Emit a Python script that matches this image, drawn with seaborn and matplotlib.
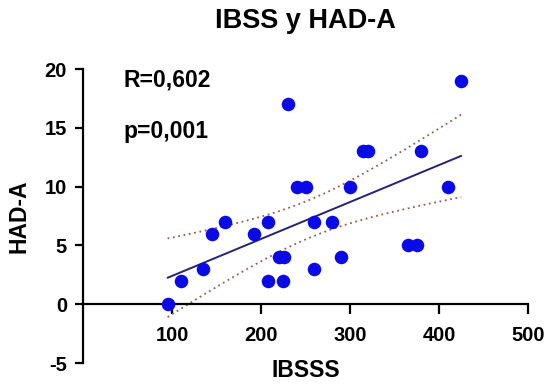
#!/usr/bin/env python3

import numpy as np
import pandas as pd
import matplotlib
matplotlib.use('Agg')
from matplotlib import pyplot as plt
import seaborn as sns


# IBSSS score vs HAD-A score
ibsss = [95, 110, 135, 145, 160, 192, 208, 208, 225, 220, 226, 230, 240,
         250, 260, 280, 260, 290, 300, 315, 320, 380, 410, 365, 375, 425]
had_a = [0, 2, 3, 6, 7, 6, 7, 2, 2, 4, 4, 17, 10,
         10, 7, 7, 3, 4, 10, 13, 13, 13, 10, 5, 5, 19]
x_ticks = [100, 200, 300, 400, 500]
y_ticks = [-5, 0, 5, 10, 15, 20]
r_text = 'R=0,602'
p_text = 'p=0,001'

df = pd.DataFrame({'IBSSS': ibsss, 'HAD-A': had_a})

sns.set_style('white')
plt.rcParams['font.family'] = ['Liberation Sans', 'DejaVu Sans']
plt.rcParams['font.weight'] = 'bold'
plt.rcParams['axes.unicode_minus'] = False
for key in ['text.color', 'axes.labelcolor', 'xtick.color', 'ytick.color']:
    plt.rcParams[key] = 'black'

fig = plt.figure(figsize=(5.48, 3.85), dpi=100)
ax = fig.add_axes([0.1515, 0.0571, 0.8120, 0.7636])

# 95% confidence band of the fitted line (dotted)
x = df['IBSSS'].to_numpy(float)
y = df['HAD-A'].to_numpy(float)
n = len(x)
slope, intercept = np.polyfit(x, y, 1)
resid = y - (slope * x + intercept)
s = np.sqrt((resid ** 2).sum() / (n - 2))
sxx = ((x - x.mean()) ** 2).sum()
xs = np.linspace(x.min(), x.max(), 100)
ys = slope * xs + intercept
half = 2.064 * s * np.sqrt(1.0 / n + (xs - x.mean()) ** 2 / sxx)
ax.plot(xs, ys + half, ls=(0, (1, 2.0)), color='#9a5a4e', lw=1.3, zorder=2)
ax.plot(xs, ys - half, ls=(0, (1, 2.0)), color='#9a5a4e', lw=1.3, zorder=2)

sns.regplot(data=df, x='IBSSS', y='HAD-A', ci=None, ax=ax,
            scatter_kws=dict(s=95, color='#0a0ae6', alpha=1, linewidths=0, zorder=3),
            line_kws=dict(color='#23237a', lw=1.4, zorder=2))

ax.set_xlim(0, 500)
ax.set_ylim(-5, 20)
ax.set_xticks(x_ticks, labels=[str(v) for v in x_ticks], fontweight='bold')
ax.set_yticks(y_ticks, labels=[str(v) for v in y_ticks], fontweight='bold')

ax.spines['right'].set_visible(False)
ax.spines['top'].set_visible(False)
ax.spines['bottom'].set_position(('data', 0))
for sp in ['left', 'bottom']:
    ax.spines[sp].set_linewidth(1.6)
    ax.spines[sp].set_color('black')

ax.tick_params(axis='x', length=7, width=1.6, pad=9, labelsize=14.5, direction='out', bottom=True)
ax.tick_params(axis='y', length=5.5, width=1.6, pad=6, labelsize=14.5, direction='out', left=True)

ax.set_xlabel('IBSSS', fontsize=16.5, fontweight='bold', va='center')
ax.xaxis.set_label_coords(0.5, -0.024)
ax.set_ylabel('HAD-A', fontsize=16.5, fontweight='bold', va='center')
ax.yaxis.set_label_coords(-0.145, 0.5)

ax.text(45, 19.1, r_text, fontsize=16.5, fontweight='bold', va='center', ha='left')
ax.text(45, 14.7, p_text, fontsize=16.5, fontweight='bold', va='center', ha='left')

fig.text(0.557, 0.945, 'IBSS y HAD-A', fontsize=19.5, fontweight='bold', ha='center', va='center')

plt.savefig('out.png', dpi=100)
